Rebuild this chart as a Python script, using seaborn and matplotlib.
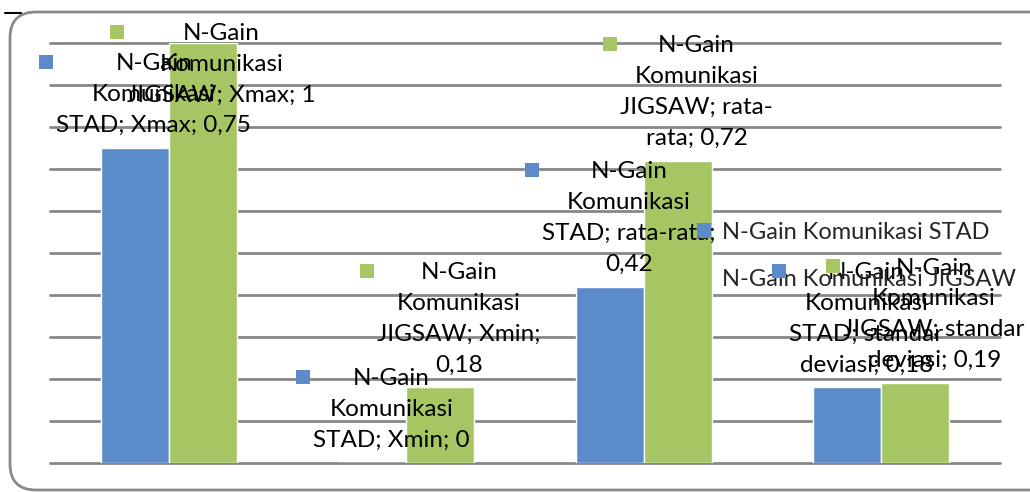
import textwrap
import matplotlib
matplotlib.use("Agg")
import matplotlib.pyplot as plt
from matplotlib.patches import FancyBboxPatch, Rectangle, Patch
from matplotlib.lines import Line2D
from matplotlib.transforms import IdentityTransform
import numpy as np
import pandas as pd
import seaborn as sns

# --- data -------------------------------------------------------------
categories = ["Xmax", "Xmin", "rata-rata", "standar deviasi"]
series_names = ["N-Gain Komunikasi STAD", "N-Gain Komunikasi JIGSAW"]
stad_values = [0.75, 0.0, 0.42, 0.18]
jigsaw_values = [1.0, 0.18, 0.72, 0.19]
colors = ["#5B8BC9", "#A5C663"]

df = pd.DataFrame({
    "kategori": categories * 2,
    "seri": [series_names[0]] * len(categories) + [series_names[1]] * len(categories),
    "nilai": stad_values + jigsaw_values,
})

# --- style ------------------------------------------------------------
sns.set_theme(style="white")
plt.rcParams["font.family"] = ["Lato", "DejaVu Sans"]
grid_color = "#878787"
label_size = 17.5

W, H = 1030, 492
fig = plt.figure(figsize=(W / 100, H / 100), dpi=100)
ax = fig.add_axes([50 / W, 29 / H, 950 / W, 420 / H])

sns.barplot(data=df, x="kategori", y="nilai", hue="seri", order=categories,
            hue_order=series_names, palette=colors, width=0.571, gap=0,
            saturation=1, legend=False, ax=ax, zorder=2)

ax.set_xlim(-0.5, len(categories) - 0.5)
ax.set_ylim(0, 1)
ax.set_yticks(np.arange(0, 1.01, 0.1))
ax.yaxis.grid(True, color=grid_color, lw=2)
for gl in ax.get_ygridlines():
    gl.set_clip_on(False)
ax.set_axisbelow(True)
ax.tick_params(left=False, bottom=False, labelleft=False, labelbottom=False)
ax.set_xlabel("")
ax.set_ylabel("")
sns.despine(ax=ax, left=True, bottom=True)
ax.patch.set_alpha(0)

# --- data labels (Excel style, with key squares) ----------------------
def fmt(v):
    return f"{v:g}".replace(".", ",")

labels = []
for s_idx, cont in enumerate(ax.containers):
    prefix, group = series_names[s_idx].rsplit(" ", 1)
    for c_idx, rect in enumerate(cont):
        val = rect.get_height()
        rest = f"{group}; {categories[c_idx]}; {fmt(val)}"
        lines = textwrap.wrap(prefix, 16) + textwrap.wrap(rest, 16)
        t = ax.annotate("\n".join(lines),
                        xy=(rect.get_x() + rect.get_width() / 2, val),
                        xytext=(19, 12), textcoords="offset pixels",
                        ha="center", va="bottom", multialignment="center",
                        fontsize=label_size, linespacing=1.58, color="black",
                        zorder=5, annotation_clip=False)
        labels.append((t, colors[s_idx]))

fig.canvas.draw()
top_limit = H - 23
for t, _ in labels:
    bb = t.get_window_extent()
    if bb.y1 > top_limit:
        dx, dy = t.xyann
        t.xyann = (dx, dy - (bb.y1 - top_limit))
fig.canvas.draw()

key = 14
for t, c in labels:
    bb = t.get_window_extent()
    line_c = bb.y1 - label_size * 100 / 72 * 0.36
    fig.add_artist(Rectangle((bb.x0 - 3 - key, line_c - key / 2), key, key,
                             facecolor=c, edgecolor="none",
                             transform=IdentityTransform(), zorder=6))

# --- legend -----------------------------------------------------------
handles = [Patch(facecolor=c, edgecolor="none") for c in colors]
fig.legend(handles, series_names, loc="upper left",
           bbox_to_anchor=(697 / W, 1 - 222 / H), frameon=False,
           fontsize=17, handlelength=0.6, handleheight=0.6,
           handletextpad=0.45, labelspacing=1.1, borderpad=0,
           borderaxespad=0)

# --- chart frame ------------------------------------------------------
fig.add_artist(FancyBboxPatch((10, 2), 1060, 478,
                              boxstyle="round,pad=0,rounding_size=26",
                              facecolor="none", edgecolor="#8a8a8a", lw=2,
                              transform=IdentityTransform(), zorder=0))
fig.add_artist(Line2D([5, 21], [479, 479], color="black", lw=1.5,
                      transform=IdentityTransform()))

fig.savefig("out.png", dpi=100)
